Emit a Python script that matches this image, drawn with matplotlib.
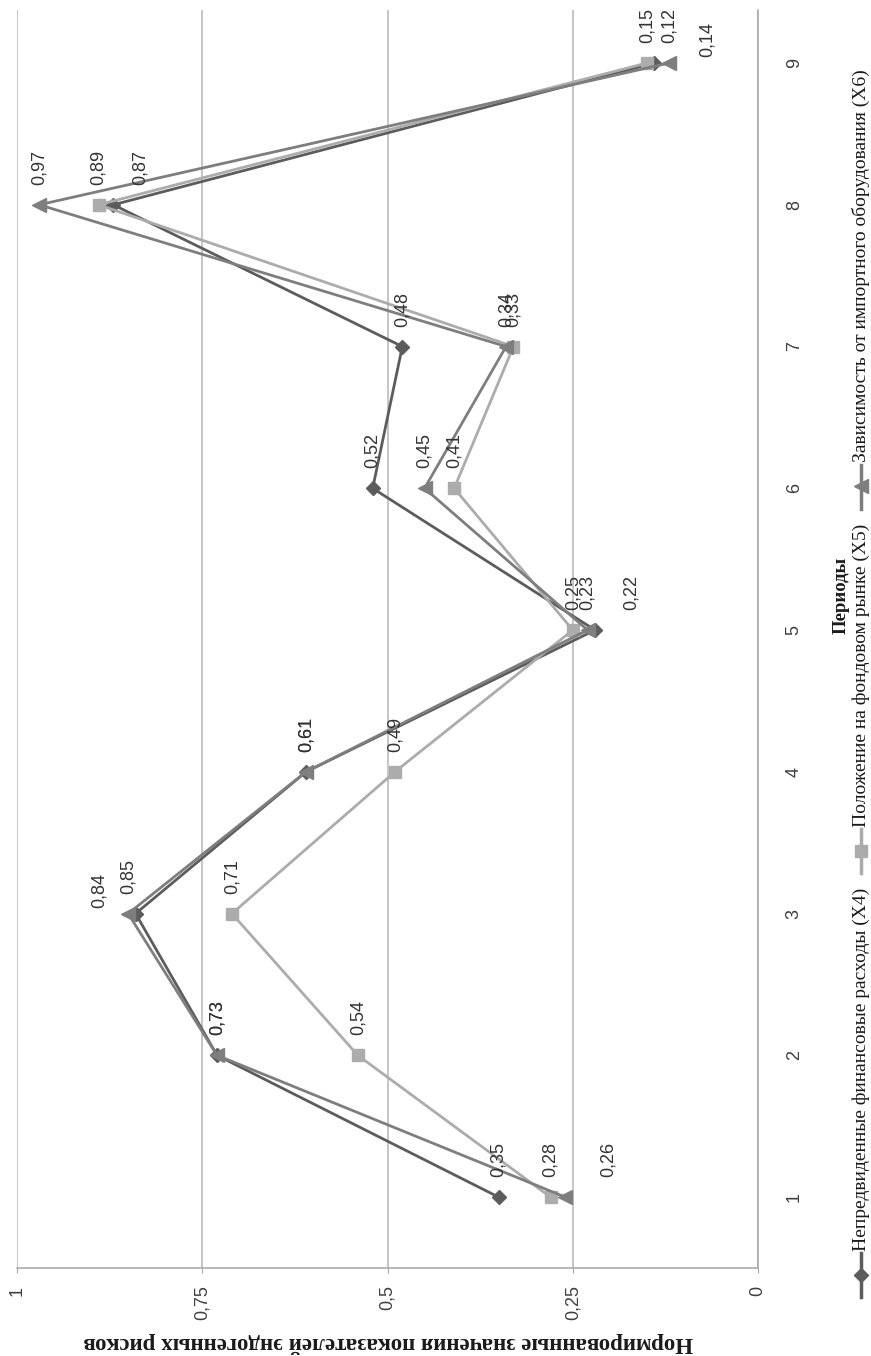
import matplotlib
matplotlib.use("Agg")
import matplotlib.pyplot as plt
from matplotlib.lines import Line2D

# data
periods = [1, 2, 3, 4, 5, 6, 7, 8, 9]
x4 = [0.35, 0.73, 0.84, 0.61, 0.22, 0.52, 0.48, 0.87, 0.14]
x5 = [0.28, 0.54, 0.71, 0.49, 0.25, 0.41, 0.33, 0.89, 0.15]
x6 = [0.26, 0.73, 0.85, 0.61, 0.23, 0.45, 0.34, 0.97, 0.12]
series_names = ["Непредвиденные финансовые расходы (X4)",
                "Положение на фондовом рынке (X5)",
                "Зависимость от импортного оборудования (X6)"]
value_ticks = [0, 0.25, 0.5, 0.75, 1]
value_tick_labels = ["0", "0,25", "0,5", "0,75", "1"]
x_title = "Периоды"
y_title = "Нормированные значения показателей эндогенных рисков"

# styles
colors = ["#5c5c5c", "#acacac", "#7e7e7e"]
markers = ["D", "s", "<"]
msizes = [7, 9, 10]
# manual label shifts (pixels) per series, per period index
label_shift = [
    {2: (-36, 6), 4: (36, 20), 7: (27, 20), 8: (53, 6)},
    {},
    {0: (43, 20)},
]

sans = "Liberation Sans"
serif = "Liberation Serif"
num_size = 13

W, H = 871, 1356
def fx(px):
    return px / W
def fy(py):
    return 1 - py / H

fig = plt.figure(figsize=(W / 100, H / 100), dpi=100)
ax = fig.add_axes([fx(17), fy(1268), fx(758) - fx(17), fy(10) - fy(1268)])

for vals, c, m, ms in zip([x4, x5, x6], colors, markers, msizes):
    ax.plot(vals, periods, color=c, lw=2.0, marker=m, ms=ms, mec=c, mfc=c, zorder=3)

for k, vals in enumerate([x4, x5, x6]):
    for i, (v, p) in enumerate(zip(vals, periods)):
        dx, dy = label_shift[k].get(i, (0, 20))
        ax.annotate(f"{v:.2f}".replace(".", ","), (v, p), xytext=(dx, dy),
                    textcoords="offset pixels", rotation=90, ha="center", va="bottom",
                    fontsize=num_size, family=sans, color="#333333", zorder=4)

ax.set_xlim(1, 0)
ax.set_ylim(0.5, 9.374)
ax.set_xticks(value_ticks)
ax.set_xticklabels(value_tick_labels, rotation=90, family=sans, fontsize=num_size, color="#404040")
ax.grid(axis="x", color="#b5b5b5", lw=1.1)
ax.set_axisbelow(True)
ax.tick_params(axis="x", direction="out", length=3.6, color="#a6a6a6", pad=9)

ax.yaxis.tick_right()
ax.set_yticks(periods)
ax.set_yticklabels([str(p) for p in periods], rotation=90, va="center",
                   family=sans, fontsize=num_size, color="#404040")
ax.tick_params(axis="y", length=0, pad=20)

for s in ["top", "left"]:
    ax.spines[s].set_visible(False)
for s in ["right", "bottom"]:
    ax.spines[s].set_color("#a6a6a6")
    ax.spines[s].set_linewidth(1.1)

fig.text(fx(388), fy(1343), y_title, rotation=180, ha="center", va="center",
         family=serif, fontweight="bold", fontsize=16.5, color="#1a1a1a")
fig.text(fx(841), fy(595), x_title, rotation=90, ha="center", va="center",
         family=serif, fontweight="bold", fontsize=13.5, color="#1a1a1a")

# legend drawn by hand, rotated
renderer = fig.canvas.get_renderer()
y = 1297
leg_x = 861
for name, c, m, ms in zip(series_names, colors, markers, msizes):
    fig.add_artist(Line2D([fx(leg_x)] * 2, [fy(y), fy(y - 44)], transform=fig.transFigure,
                          color=c, lw=2.5))
    fig.add_artist(Line2D([fx(leg_x)], [fy(y - 22)], transform=fig.transFigure,
                          marker=m, ms=ms, color=c, lw=0))
    t = fig.text(fx(leg_x), fy(y - 46), name, rotation=90, ha="center", va="bottom",
                 family=serif, fontsize=14, color="#1a1a1a")
    ext = t.get_window_extent(renderer)
    y = y - 46 - ext.height - 15

fig.savefig("out.png", dpi=100, facecolor="white")
